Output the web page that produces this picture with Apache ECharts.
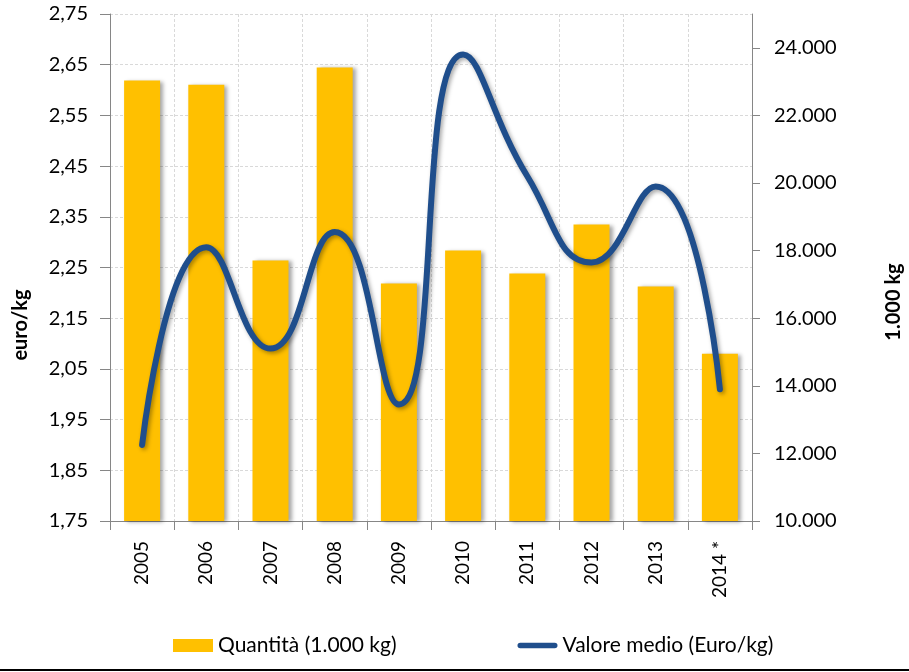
<!DOCTYPE html>
<html>
<head>
<meta charset="utf-8">
<script src="https://cdn.jsdelivr.net/npm/echarts@6/dist/echarts.min.js"></script>
<style>
html,body{margin:0;padding:0;background:#fff;}
#chart{width:909px;height:672px;}
</style>
</head>
<body>
<div id="chart"></div>
<script>
const categories = ['2005','2006','2007','2008','2009','2010','2011','2012','2013','2014 *'];
const quantita = [23030, 22910, 17710, 23420, 17030, 18000, 17320, 18770, 16940, 14950];
const valoreMedio = [1.90, 2.29, 2.09, 2.32, 1.98, 2.67, 2.43, 2.26, 2.41, 2.01];
const rightTicks = [10000, 12000, 14000, 16000, 18000, 20000, 22000, 24000];

const FONT = 'Lato';
const chart = echarts.init(document.getElementById('chart'));
chart.setOption({
  backgroundColor: '#ffffff',
  animation: false,
  textStyle: { fontFamily: FONT, color: '#000' },
  grid: { left: 110, right: 157, top: 14, bottom: 151, containLabel: false },
  legend: {
    left: 168, top: 630,
    itemWidth: 40, itemHeight: 13, itemGap: 121,
    textStyle: { fontFamily: FONT, fontSize: 21, color: '#000' },
    data: [
      { name: 'Quantità (1.000 kg)', icon: 'rect' },
      { name: 'Valore medio (Euro/kg)',
        icon: 'path://M3,0 L41,0 A3,3 0 0 1 41,6 L3,6 A3,3 0 0 1 3,0 Z',
        itemStyle: { color: '#1F4E8C' } }
    ]
  },
  xAxis: {
    type: 'category',
    data: categories,
    axisLine: { lineStyle: { color: '#868686', width: 1 } },
    axisTick: { show: true, interval: 0, length: 9, lineStyle: { color: '#868686' } },
    axisLabel: { rotate: 90, margin: 20, fontSize: 19, color: '#000', fontFamily: FONT, interval: 0 },
    splitLine: { show: true, interval: 0, lineStyle: { color: '#d9d9d9', type: [3, 2] } }
  },
  yAxis: [
    {
      type: 'value', min: 1.75, max: 2.75, interval: 0.1, position: 'left',
      axisLine: { show: true, lineStyle: { color: '#868686' } },
      axisTick: { show: true, length: 10, lineStyle: { color: '#868686' } },
      axisLabel: { margin: 22, fontSize: 20, color: '#000', fontFamily: FONT,
        formatter: v => v.toFixed(2).replace('.', ',') },
      splitLine: { show: true, lineStyle: { color: '#d9d9d9', type: [3, 2] } }
    },
    {
      type: 'value', min: 10000, max: 25000, interval: 2000, position: 'right',
      axisLine: { show: true, lineStyle: { color: '#868686' } },
      axisTick: { show: true, length: 8, customValues: rightTicks, lineStyle: { color: '#868686' } },
      axisLabel: { margin: 22, fontSize: 20, color: '#000', fontFamily: FONT,
        customValues: rightTicks,
        formatter: v => (v >= 25000 ? '' : (v / 1000).toFixed(3)) },
      splitLine: { show: false }
    }
  ],
  series: [
    {
      name: 'Quantità (1.000 kg)',
      type: 'bar',
      yAxisIndex: 1,
      data: quantita,
      barWidth: 36,
      itemStyle: {
        color: '#FFC000',
        shadowColor: 'rgba(0,0,0,0.35)', shadowBlur: 4, shadowOffsetX: 3, shadowOffsetY: 1
      },
      z: 2
    },
    {
      name: 'Valore medio (Euro/kg)',
      type: 'line',
      yAxisIndex: 0,
      data: valoreMedio,
      smooth: 0.5,
      symbol: 'none',
      lineStyle: {
        color: '#1F4E8C', width: 6, cap: 'round', join: 'round',
        shadowColor: 'rgba(0,0,0,0.35)', shadowBlur: 4, shadowOffsetX: 2, shadowOffsetY: 2
      },
      itemStyle: { color: '#1F4E8C' },
      z: 3
    }
  ],
  graphic: [
    {
      type: 'text', x: 21, y: 325, rotation: Math.PI / 2,
      style: { text: 'euro/kg', font: 'bold 20px Lato', fill: '#000', align: 'center', verticalAlign: 'middle' }
    },
    {
      type: 'text', x: 894, y: 302, rotation: Math.PI / 2,
      style: { text: '1.000 kg', font: 'bold 20px Lato', fill: '#000', align: 'center', verticalAlign: 'middle' }
    },
    {
      type: 'line', shape: { x1: 0, y1: 670, x2: 909, y2: 670 },
      style: { stroke: '#000', lineWidth: 2 }
    }
  ]
});
</script>
</body>
</html>
